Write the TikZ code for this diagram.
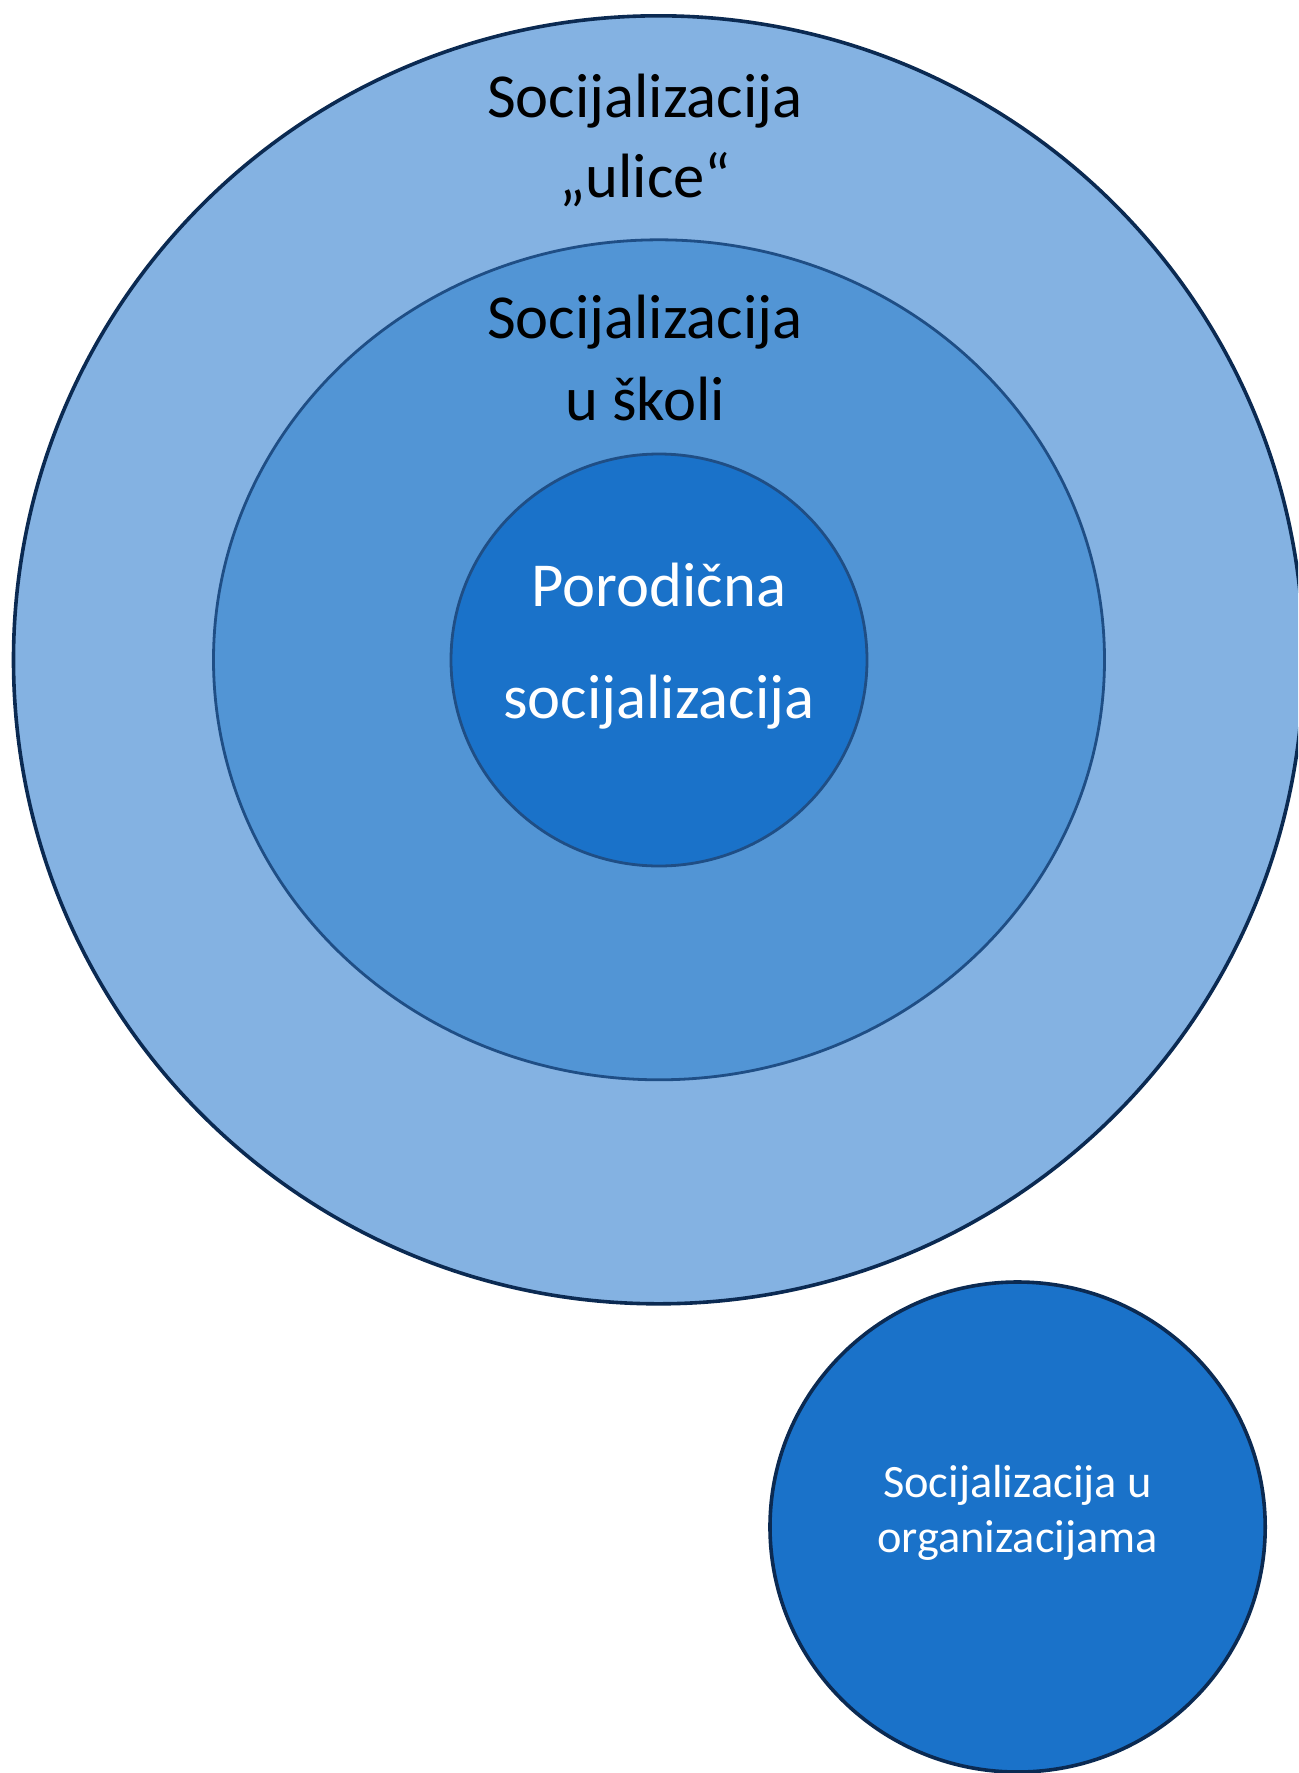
\documentclass[tikz,border=0pt]{standalone}
\usepackage{fontspec}
\setmainfont{Carlito}
\usetikzlibrary{shapes.geometric}
\definecolor{outerfill}{HTML}{84B2E2}
\definecolor{midfill}{HTML}{5295D5}
\definecolor{innerfill}{HTML}{1A72C9}
\definecolor{darkline}{HTML}{0B2A52}
\definecolor{midline}{HTML}{1F4E85}
\tikzset{
  ring/.style={ellipse, inner sep=0pt, draw},
  bigtext/.style={anchor=base, inner sep=0pt, font=\fontsize{31.3}{38}\selectfont},
  smalltext/.style={anchor=base, inner sep=0pt, text=white, font=\fontsize{23.2}{28}\selectfont}
}
\begin{document}
\begin{tikzpicture}[x=0.5pt,y=-0.5pt]
\useasboundingbox (0,0) rectangle (1298,1773);
\clip (0,0) rectangle (1298,1773);
\node[ring, fill=outerfill, draw=darkline, line width=1.8pt, minimum width=645pt, minimum height=644pt] (outer) at (658.5,659.8) {};
\node[ring, fill=midfill, draw=midline, line width=1.4pt, minimum width=445.5pt, minimum height=420pt] (middle) at (659,659.8) {};
\node[ring, fill=innerfill, draw=midline, line width=1.4pt, minimum width=208pt, minimum height=206pt] (inner) at (659,660) {};
\node[ring, fill=innerfill, draw=darkline, line width=1.8pt, minimum width=247.6pt, minimum height=245pt] (org) at (1017.6,1527) {};
\node[bigtext] (t1) at (645,117) {Socijalizacija};
\node[bigtext] (t2) at (645,197) {„ulice“};
\node[bigtext] (m1) at (645,338) {Socijalizacija};
\node[bigtext] (m2) at (645,420) {u školi};
\node[bigtext, text=white] (i1) at (659,606) {Porodična};
\node[bigtext, text=white] (i2) at (659,718) {socijalizacija};
\node[smalltext] (o1) at (1017.5,1497) {Socijalizacija u};
\node[smalltext] (o2) at (1017.5,1552) {organizacijama};
\end{tikzpicture}
\end{document}
